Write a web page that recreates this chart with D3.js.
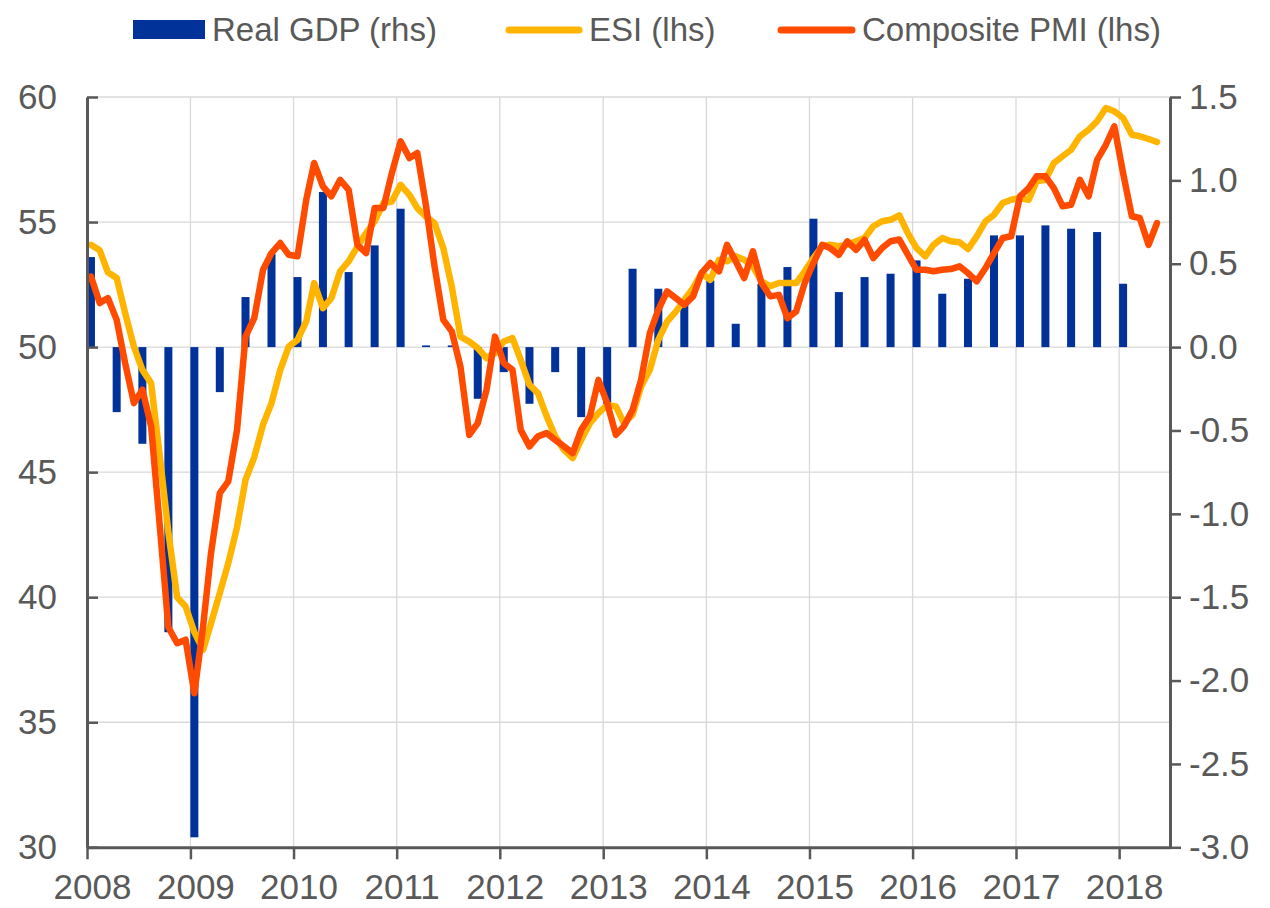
<!DOCTYPE html>
<html>
<head>
<meta charset="utf-8">
<script src="https://cdn.jsdelivr.net/npm/d3@7"></script>
<style>
body { margin: 0; background: #fff; }
text { font-family: "Liberation Sans", Arial, sans-serif; fill: #595959; }
</style>
</head>
<body>
<script>
var width = 1270;
var height = 908;

// monthly series, Jan 2008 onwards
var esi = [
	54.09, 53.87, 52.99, 52.76, 51.36, 50.02, 49.09, 48.56, 45.6, 42.6, 40.0, 39.63,
	38.6, 37.9, 38.96, 40.16, 41.36, 42.8, 44.69, 45.6, 46.9, 47.76, 49.09, 50.02,
	50.29, 51.03, 52.56, 51.56, 51.96, 53.03, 53.43, 54.02, 54.56, 55.03, 55.76, 55.82,
	56.49, 56.09, 55.56, 55.22, 54.96, 53.96, 52.42, 50.42, 50.22, 49.96, 49.56, 49.76,
	50.22, 50.36, 49.49, 48.49, 48.16, 47.23, 46.43, 45.89, 45.56, 46.29, 46.96, 47.36,
	47.69, 47.63, 46.96, 47.29, 48.42, 49.09, 50.29, 51.02, 51.42, 51.89, 52.36, 52.96,
	52.69, 53.49, 53.43, 53.63, 53.49, 53.23, 52.63, 52.43, 52.56, 52.56, 52.56, 53.03,
	53.56, 54.03, 54.09, 54.03, 54.09, 54.23, 54.36, 54.83, 55.03, 55.09, 55.27, 54.56,
	53.96, 53.63, 54.09, 54.36, 54.23, 54.19, 53.92, 54.43, 55.03, 55.29, 55.76, 55.89,
	55.96, 55.89, 56.63, 56.69, 57.36, 57.63, 57.89, 58.43, 58.69, 59.03, 59.56, 59.43,
	59.16, 58.49, 58.43, 58.32, 58.2
];
var pmi = [
	52.82, 51.76, 51.96, 51.09, 49.36, 47.76, 48.3, 46.83, 42.8, 38.8, 38.16, 38.3,
	36.16, 38.85, 41.77, 44.16, 44.63, 46.69, 50.42, 51.16, 53.09, 53.76, 54.16, 53.69,
	53.63, 55.89, 57.36, 56.43, 56.03, 56.69, 56.29, 54.09, 53.76, 55.56, 55.56, 56.96,
	58.23, 57.56, 57.76, 55.63, 53.23, 51.09, 50.63, 49.2, 46.49, 46.96, 48.29, 50.42,
	49.36, 49.09, 46.69, 46.03, 46.43, 46.56, 46.29, 46.03, 45.76, 46.69, 47.23, 48.69,
	47.76, 46.49, 46.83, 47.49, 48.69, 50.56, 51.49, 52.23, 51.96, 51.69, 52.03, 52.96,
	53.36, 53.03, 54.09, 53.43, 52.76, 53.83, 52.56, 52.03, 52.09, 51.16, 51.43, 52.56,
	53.36, 54.09, 53.96, 53.69, 54.23, 53.89, 54.29, 53.56, 53.96, 54.23, 54.3, 53.7,
	53.09, 53.09, 53.03, 53.09, 53.12, 53.23, 52.96, 52.63, 53.16, 53.76, 54.36, 54.43,
	56.03, 56.36, 56.83, 56.83, 56.36, 55.63, 55.69, 56.69, 56.03, 57.49, 58.09, 58.83,
	56.96, 55.23, 55.16, 54.09, 54.96
];
// quarterly real GDP growth, 2008Q1 onwards
var gdp = [
	0.54, -0.39, -0.58, -1.71,
	-2.94, -0.27, 0.30, 0.56,
	0.42, 0.93, 0.45, 0.61,
	0.83, 0.01, 0.01, -0.31,
	-0.15, -0.34, -0.15, -0.42,
	-0.34, 0.47, 0.35, 0.27,
	0.40, 0.14, 0.38, 0.48,
	0.77, 0.33, 0.42, 0.44,
	0.52, 0.32, 0.41, 0.67,
	0.67, 0.73, 0.71, 0.69,
	0.38
];
var leftTicks = [30, 35, 40, 45, 50, 55, 60];
var rightTicks = [-3.0, -2.5, -2.0, -1.5, -1.0, -0.5, 0.0, 0.5, 1.0, 1.5];
var legendItems = [
	{ name: "Real GDP (rhs)", type: "bar", color: "#003299", x: 133, w: 72 },
	{ name: "ESI (lhs)", type: "line", color: "#FFB400", x: 506, w: 76 },
	{ name: "Composite PMI (lhs)", type: "line", color: "#FF4B00", x: 778, w: 77 }
];

var plotLeft = 87, plotRight = 1170, plotTop = 97, plotBottom = 847.3;

var x = d3.scaleTime()
	.domain([new Date(2008, 0, 1), new Date(2018, 5, 30)])
	.range([plotLeft, plotRight]);
var y = d3.scaleLinear().domain([30, 60]).range([plotBottom, plotTop]);
var yR = d3.scaleLinear().domain([-3, 1.5]).range([plotBottom, plotTop]);

function monthDate(i) { return new Date(2008, i, 15); }

var svg = d3.select("body")
	.append("svg")
	.attr("width", width)
	.attr("height", height);

// grid
var grid = svg.append("g").attr("stroke", "#d9d9d9").attr("stroke-width", 1.3);
grid.selectAll("line.h")
	.data(leftTicks.slice(1))
	.enter()
	.append("line")
	.attr("x1", plotLeft).attr("x2", plotRight)
	.attr("y1", function(d) { return y(d); })
	.attr("y2", function(d) { return y(d); });
grid.selectAll("line.v")
	.data(d3.timeYears(new Date(2009, 0, 1), new Date(2018, 1, 1)))
	.enter()
	.append("line")
	.attr("y1", plotTop).attr("y2", plotBottom)
	.attr("x1", function(d) { return x(d); })
	.attr("x2", function(d) { return x(d); });

// bars
svg.append("g")
	.selectAll("rect")
	.data(gdp)
	.enter()
	.append("rect")
	.attr("fill", "#003299")
	.attr("x", function(d, i) { return x(monthDate(i * 3)) - 4; })
	.attr("width", 8)
	.attr("y", function(d) { return yR(Math.max(d, 0)); })
	.attr("height", function(d) { return Math.abs(yR(d) - yR(0)); });

// lines
var line = d3.line()
	.x(function(d, i) { return x(monthDate(i)); })
	.y(function(d) { return y(d); });

svg.append("path")
	.datum(esi)
	.attr("d", line)
	.attr("fill", "none")
	.attr("stroke", "#FFB400")
	.attr("stroke-width", 6.5)
	.attr("stroke-linejoin", "round")
	.attr("stroke-linecap", "round");

svg.append("path")
	.datum(pmi)
	.attr("d", line)
	.attr("fill", "none")
	.attr("stroke", "#FF4B00")
	.attr("stroke-width", 6.5)
	.attr("stroke-linejoin", "round")
	.attr("stroke-linecap", "round");

// axes
var axisLeft = svg.append("g")
	.attr("transform", "translate(" + plotLeft + ",0)")
	.call(d3.axisLeft(y).tickValues(leftTicks).tickSize(-11).tickSizeOuter(0).tickPadding(30));
var axisRight = svg.append("g")
	.attr("transform", "translate(" + plotRight + ",0)")
	.call(d3.axisRight(yR).tickValues(rightTicks).tickSize(11).tickSizeOuter(0).tickPadding(8)
		.tickFormat(function(d) { return d.toFixed(1); }));
var axisBottom = svg.append("g")
	.attr("transform", "translate(0," + plotBottom + ")")
	.call(d3.axisBottom(x).ticks(d3.timeYear).tickSize(12).tickSizeOuter(0).tickPadding(15)
		.tickFormat(d3.timeFormat("%Y")));

[axisLeft, axisRight, axisBottom].forEach(function(a) {
	a.select(".domain").attr("stroke", "#595959").attr("stroke-width", 3);
	a.selectAll(".tick line").attr("stroke", "#595959").attr("stroke-width", 2.5);
	a.selectAll("text")
		.attr("fill", "#595959")
		.style("font-size", "35px")
		.attr("font-family", null);
});
axisBottom.selectAll("text").attr("dx", 5);

// legend
var legend = svg.append("g").selectAll("g")
	.data(legendItems)
	.enter()
	.append("g");
legend.filter(function(d) { return d.type == "bar"; })
	.append("rect")
	.attr("x", function(d) { return d.x; })
	.attr("y", 20)
	.attr("width", function(d) { return d.w; })
	.attr("height", 19)
	.attr("fill", function(d) { return d.color; });
legend.filter(function(d) { return d.type == "line"; })
	.append("line")
	.attr("x1", function(d) { return d.x + 3; })
	.attr("x2", function(d) { return d.x + d.w - 3; })
	.attr("y1", 30).attr("y2", 30)
	.attr("stroke", function(d) { return d.color; })
	.attr("stroke-width", 7)
	.attr("stroke-linecap", "round");
legend.append("text")
	.attr("x", function(d) { return d.x + d.w + 7; })
	.attr("y", 41)
	.style("font-size", "33px")
	.text(function(d) { return d.name; });
</script>
</body>
</html>
